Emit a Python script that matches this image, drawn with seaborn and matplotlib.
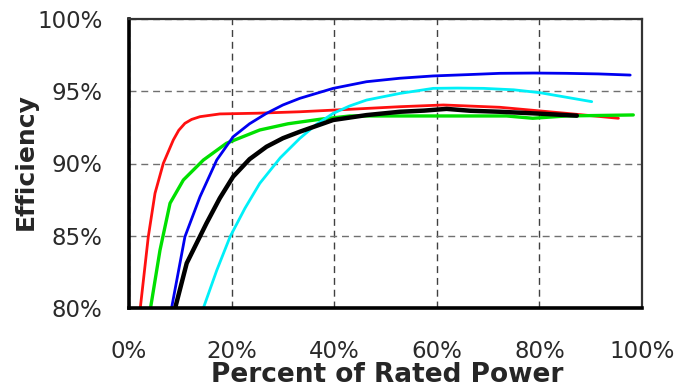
import matplotlib
matplotlib.use("Agg")
import matplotlib.pyplot as plt
import seaborn as sns
import pandas as pd
from matplotlib.ticker import MultipleLocator, FuncFormatter

sns.set_style("white")
plt.rcParams['font.family'] = ['DejaVu Sans']

red_x = [2.2, 3.76, 5.07, 6.69, 8.64, 9.7, 10.9, 12.2, 13.84, 17.7, 25.0, 33.3, 43.0, 52.8, 61.3, 72.3, 85.3, 95.4]
red_y = [80.0, 84.93, 87.94, 90.01, 91.63, 92.3, 92.78, 93.05, 93.24, 93.43, 93.48, 93.58, 93.75, 93.93, 94.05, 93.89, 93.47, 93.13]

green_x = [4.2, 6.04, 8.0, 10.6, 14.5, 19.0, 25.5, 31.0, 37.2, 43.1, 55.0, 65.0, 73.6, 78.7, 85.3, 98.3]
green_y = [80.0, 84.0, 87.25, 88.86, 90.24, 91.4, 92.32, 92.75, 93.06, 93.29, 93.29, 93.29, 93.29, 93.13, 93.29, 93.36]

blue_x = [8.3, 10.9, 13.84, 17.1, 20.3, 23.5, 26.8, 30.0, 33.3, 39.8, 46.3, 52.8, 59.3, 66.0, 72.3, 79.0, 85.3, 91.5, 97.7]
blue_y = [80.0, 84.93, 87.7, 90.24, 91.85, 92.75, 93.47, 94.05, 94.51, 95.2, 95.66, 95.9, 96.06, 96.15, 96.24, 96.26, 96.24, 96.2, 96.12]

black_x = [9.0, 11.25, 15.1, 17.7, 20.3, 23.5, 26.8, 30.0, 33.3, 39.8, 46.3, 52.8, 57.5, 61.9, 66.5, 72.3, 80.0, 87.3]
black_y = [80.0, 83.1, 85.86, 87.6, 89.09, 90.3, 91.16, 91.75, 92.2, 93.01, 93.35, 93.58, 93.66, 93.78, 93.65, 93.58, 93.45, 93.31]

cyan_x = [14.5, 17.1, 19.7, 22.6, 25.5, 29.5, 33.3, 36.5, 39.8, 43.0, 46.3, 52.8, 59.3, 64.0, 69.1, 75.0, 80.1, 85.0, 90.2]
cyan_y = [80.0, 82.6, 84.93, 86.9, 88.63, 90.4, 91.74, 92.7, 93.47, 93.98, 94.39, 94.85, 95.2, 95.22, 95.2, 95.1, 94.9, 94.6, 94.28]

x_ticks = [0, 20, 40, 60, 80, 100]
y_ticks = [80, 85, 90, 95, 100]

series = [("red", red_x, red_y), ("green", green_x, green_y), ("blue", blue_x, blue_y),
          ("cyan", cyan_x, cyan_y), ("black", black_x, black_y)]
frames = []
for name, xs, ys in series:
    frames.append(pd.DataFrame({"x": xs, "y": ys, "s": name}))
df = pd.concat(frames, ignore_index=True)

palette = {"red": "#ff1010", "green": "#00e000", "blue": "#0000f0", "cyan": "#00f0f8", "black": "#000000"}
widths = {"red": 2.0, "green": 2.4, "blue": 2.0, "cyan": 2.0, "black": 3.2}

fig = plt.figure(figsize=(6.78, 3.88), dpi=100)
L, R, T, B = 129, 642, 19, 308
ax = fig.add_axes([L/678, 1-B/388, (R-L)/678, (B-T)/388])

for name, _, _ in series:
    sns.lineplot(data=df[df.s == name], x="x", y="y", color=palette[name], lw=widths[name],
                 estimator=None, sort=False, ax=ax, legend=False)

ax.set_xlim(0, 100)
ax.set_ylim(80, 100)
ax.set_xticks(x_ticks)
ax.set_yticks(y_ticks)
ax.xaxis.set_minor_locator(MultipleLocator(10))
ax.yaxis.set_minor_locator(MultipleLocator(1))
ax.xaxis.set_major_formatter(FuncFormatter(lambda v, p: f"{v:.0f}%"))
ax.yaxis.set_major_formatter(FuncFormatter(lambda v, p: f"{v:.0f}%"))
ax.tick_params(axis="both", which="major", direction="out", length=6, width=1.2,
               labelsize=16.5, labelcolor="#2a2a2a", color="black")
ax.tick_params(axis="both", which="minor", direction="out", length=5.5, width=1.2, color="black")
ax.tick_params(axis="x", which="major", pad=17)
ax.tick_params(axis="y", which="major", pad=13)
ax.grid(True, which="major", axis="y", linestyle=(0, (5, 3.5)), color="#707070", lw=1.0)
ax.grid(True, which="major", axis="x", linestyle=(0, (5, 3.5)), color="#404040", lw=1.0)
for s in ax.spines.values():
    s.set_color("#333333")
    s.set_linewidth(1.6)
ax.spines["left"].set_color("black")
ax.spines["bottom"].set_color("black")
ax.spines["left"].set_linewidth(2.6)
ax.spines["bottom"].set_linewidth(2.6)

ax.set_xlabel("Percent of Rated Power", fontsize=19, fontweight="bold", va="top")
ax.xaxis.set_label_coords((387 - L) / (R - L), (B - 362) / (B - T))
ax.set_ylabel("Efficiency", fontsize=18, fontweight="bold", va="bottom")
ax.yaxis.set_label_coords((38 - L) / (R - L), (B - 162) / (B - T))

fig.savefig("out.png", dpi=100)
